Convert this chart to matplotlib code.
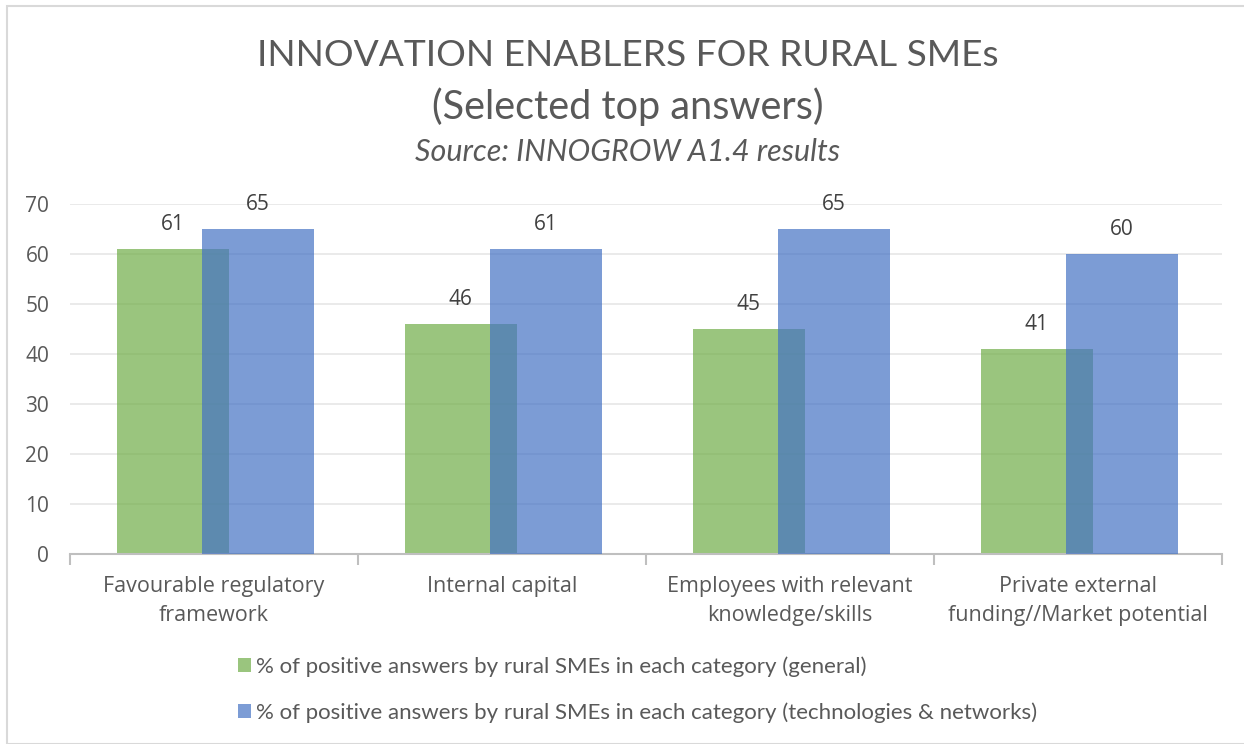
import matplotlib
matplotlib.use("Agg")
import matplotlib.pyplot as plt
from matplotlib import font_manager
from matplotlib.patches import Rectangle

categories = ["Favourable regulatory\nframework", "Internal capital",
              "Employees with relevant\nknowledge/skills",
              "Private external\nfunding//Market potential"]
general = [61, 46, 45, 41]
tech = [65, 61, 65, 60]
series_names = ["% of positive answers by rural SMEs in each category (general)",
                "% of positive answers by rural SMEs in each category (technologies & networks)"]
yticks = [0, 10, 20, 30, 40, 50, 60, 70]

avail = {f.name for f in font_manager.fontManager.ttflist}
def pick(options):
    for o in options:
        if o in avail:
            return o
    return "DejaVu Sans"
narrow = pick(["Lato", "Liberation Sans"])
body = pick(["Open Sans", "Noto Sans", "DejaVu Sans"])

W, H = 1244, 744
fig = plt.figure(figsize=(W/100, H/100), dpi=100)
fig.patch.set_facecolor("white")

# outer chart border
fig.add_artist(Rectangle((7/W, 0), (W - 7 + 10)/W, 1 - 6/H, transform=fig.transFigure,
                         fill=False, edgecolor="#d9d9d9", linewidth=1.5, clip_on=False))

ax = fig.add_axes([70/W, 1 - 554/H, (1222 - 70)/W, (554 - 204)/H])
green = "#70AD47"
blue = "#4472C4"
x = list(range(len(categories)))
bw = 0.39
b1 = ax.bar([i - 0.143 for i in x], general, width=bw, color=green, alpha=0.7, zorder=2,
            label=series_names[0])
b2 = ax.bar([i + 0.152 for i in x], tech, width=bw, color=blue, alpha=0.7, zorder=3,
            label=series_names[1])
for bars, vals in ((b1, general), (b2, tech)):
    for r, v in zip(bars, vals):
        ax.text(r.get_x() + r.get_width()/2, v + 4.9, str(v), ha="center", va="center",
                fontsize=15, color="#404040", family=body, zorder=4)

ax.set_xlim(-0.5, len(categories) - 0.5)
ax.set_ylim(0, 70)
ax.set_yticks(yticks)
ax.set_yticklabels([str(t) for t in yticks], fontsize=15, color="#595959", family=body)
ax.yaxis.grid(True, color="#e6e6e6", linewidth=1.2, zorder=0)
ax.set_axisbelow(True)
ax.tick_params(axis="y", length=0, pad=15)
ax.set_xticks(x)
ax.set_xticklabels(categories, fontsize=15.5, color="#595959", family=body, linespacing=1.5)
ax.tick_params(axis="x", length=0, pad=16)
# category boundary tick marks
ax.set_xticks([i - 0.5 for i in range(len(categories) + 1)], minor=True)
ax.tick_params(axis="x", which="minor", length=8, color="#bfbfbf", width=1.5)
for s in ("top", "right", "left"):
    ax.spines[s].set_visible(False)
ax.spines["bottom"].set_color("#bfbfbf")
ax.spines["bottom"].set_linewidth(1.5)

fig.text(628/W, 1 - 56/H, "INNOVATION ENABLERS FOR RURAL SMEs", ha="center", va="center",
         fontsize=26.7, color="#595959", family=narrow)
fig.text(628/W, 1 - 107/H, "(Selected top answers)", ha="center", va="center",
         fontsize=28.5, color="#595959", family=narrow)
fig.text(628/W, 1 - 152/H, "Source: INNOGROW A1.4 results", ha="center", va="center",
         fontsize=22, color="#595959", family=narrow, style="italic")

leg = fig.legend(handles=[b1, b2], loc="upper left", bbox_to_anchor=(218/W, 1 - 636/H),
                 frameon=False, labelspacing=1.15, handlelength=0.6,
                 handleheight=0.6, handletextpad=0.2, prop={"family": narrow, "size": 16})
for t in leg.get_texts():
    t.set_color("#595959")

fig.savefig("out.png", dpi=100, facecolor="white")
